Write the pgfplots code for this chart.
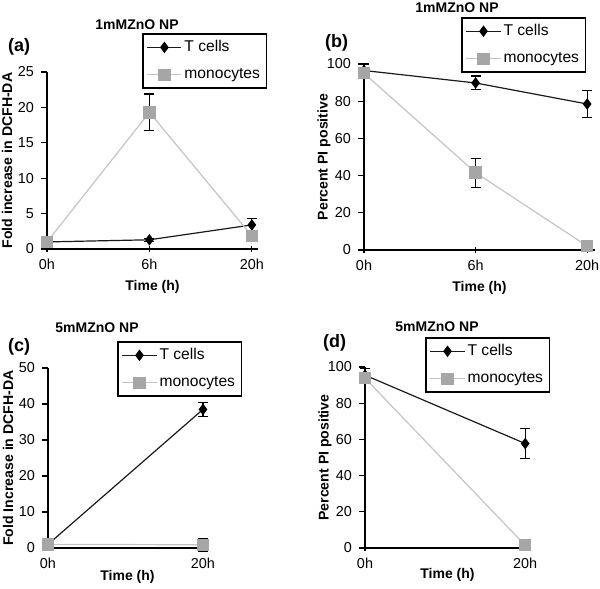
\documentclass[border=0pt]{standalone}
\usepackage{fontspec}
\setmainfont{Liberation Sans}
\usepackage{pgfplots}
\pgfplotsset{compat=1.18}
\definecolor{tline}{HTML}{1A1A1A}
\definecolor{mline}{HTML}{C4C4C4}
\definecolor{mfill}{HTML}{A6A6A6}
\pgfplotsset{
  myaxis/.style={
    scale only axis, anchor=south west, clip=false,
    axis lines=left, axis line style={-, line width=0.8pt},
    /pgf/number format/assume math mode=true,
    ticklabel style={font=\fontsize{7.2}{8}\selectfont},
    ytick align=outside, xtick align=center,
    major tick length=3pt, tick style={black, line width=0.6pt},
    xlabel style={font=\bfseries\fontsize{7}{8}\selectfont, yshift=1.5pt},
    ylabel style={font=\bfseries\fontsize{7.05}{8}\selectfont, at={(axis description cs:0,0.5)}, anchor=center, rotate=0, yshift=20pt},
    ymin=0, xmin=0,
    xtick=data,
    legend style={anchor=north west, draw=black, line width=0.8pt,
      font=\fontsize{7.8}{9}\selectfont, inner sep=2pt, row sep=4.5pt,
      nodes={inner sep=1.2pt}},
    legend cell align=left,
    legend image post style={line width=0.6pt},
    error bars/y dir=both, error bars/y explicit,
    error bars/error bar style={black, line width=0.6pt},
    error bars/error mark options={rotate=90, mark size=2.5pt, black, line width=0.6pt},
  },
  tcell/.style={tline, line width=0.6pt, mark=diamond*, mark size=2.4pt, mark options={fill=black, draw=black}},
  mono/.style={mline, line width=0.6pt, mark=square*, mark size=2.8pt, mark options={fill=mfill, draw=mfill}},
}
\begin{document}
\begin{tikzpicture}
\useasboundingbox (0,0) rectangle (300pt,294.5pt);
% (a)
\begin{axis}[myaxis, at={(23.5pt,170pt)}, width=105.5pt, height=88.5pt,
  xmax=2.06, ymax=25, ytick={0,5,10,15,20,25},
  xticklabels={0h,6h,20h}, xlabel={Time (h)}, ylabel={Fold increase in DCFH-DA},
  legend style={at={(0.45,1.22)}}]
\addplot[tcell] coordinates {(0,1.0) +- (0,0.2) (1,1.3) +- (0,0.2) (2,3.4) +- (0,0.95)};
\addlegendentry{T cells}
\addplot[mono] coordinates {(0,1.0) +- (0,0.2) (1,19.3) +- (0,2.6) (2,1.85) +- (0,0.4)};
\addlegendentry{monocytes}
\end{axis}
% (b)
\begin{axis}[myaxis, at={(182pt,169.5pt)}, width=115.5pt, height=93pt,
  xmax=2.07, ymax=100, ytick={0,20,40,60,80,100},
  xticklabels={0h,6h,20h}, xlabel={Time (h)}, ylabel={Percent PI positive},
  legend style={at={(0.42,1.253)}}]
\addplot[tcell] coordinates {(0,96.5) +- (0,3.5) (1,89.8) +- (0,3.7) (2,78.5) +- (0,7.2)};
\addlegendentry{T cells}
\addplot[mono] coordinates {(0,95) +- (0,1) (1,41.6) +- (0,7.8) (2,2.1) +- (0,0.5)};
\addlegendentry{monocytes}
\end{axis}
% (c)
\begin{axis}[myaxis, at={(24pt,20.5pt)}, width=79.5pt, height=90pt,
  xmax=1.026, ymax=50, ytick={0,10,20,30,40,50},
  xticklabels={0h,20h}, xlabel={Time (h)}, ylabel={Fold Increase in DCFH-DA},
  xlabel style={yshift=4.5pt},
  legend style={at={(0.434,1.15)}}]
\addplot[tcell] coordinates {(0,1.0) +- (0,0.3) (1,38.5) +- (0,1.9)};
\addlegendentry{T cells}
\addplot[mono] coordinates {(0,1.0) +- (0,0.3) (1,0.9) +- (0,1.8)};
\addlegendentry{monocytes}
\end{axis}
% (d)
\begin{axis}[myaxis, at={(182.5pt,20.5pt)}, width=82.5pt, height=90.5pt,
  xmax=1.03, ymax=100, ytick={0,20,40,60,80,100},
  xticklabels={0h,20h}, xlabel={Time (h)}, ylabel={Percent PI positive},
  xlabel style={yshift=5.5pt},
  legend style={at={(0.364,1.166)}}]
\addplot[tcell] coordinates {(0,95.5) +- (0,3.5) (1,57.7) +- (0,8.3)};
\addlegendentry{T cells}
\addplot[mono] coordinates {(0,93.8) +- (0,1) (1,1.5) +- (0,3)};
\addlegendentry{monocytes}
\end{axis}
% titles and panel labels
\node[font=\bfseries\fontsize{7}{8}\selectfont] at (68.5pt,282pt) {1mMZnO NP};
\node[font=\bfseries\fontsize{7}{8}\selectfont] at (228.5pt,290.5pt) {1mMZnO NP};
\node[font=\bfseries\fontsize{7}{8}\selectfont] at (48.5pt,130.5pt) {5mMZnO NP};
\node[font=\bfseries\fontsize{7}{8}\selectfont] at (218.5pt,131pt) {5mMZnO NP};
\node[font=\bfseries\fontsize{9}{10}\selectfont, anchor=west] at (0.5pt,271pt) {(a)};
\node[font=\bfseries\fontsize{9}{10}\selectfont, anchor=west] at (159pt,273pt) {(b)};
\node[font=\bfseries\fontsize{9}{10}\selectfont, anchor=west] at (0.5pt,121pt) {(c)};
\node[font=\bfseries\fontsize{9}{10}\selectfont, anchor=west] at (158pt,123pt) {(d)};
\end{tikzpicture}
\end{document}
